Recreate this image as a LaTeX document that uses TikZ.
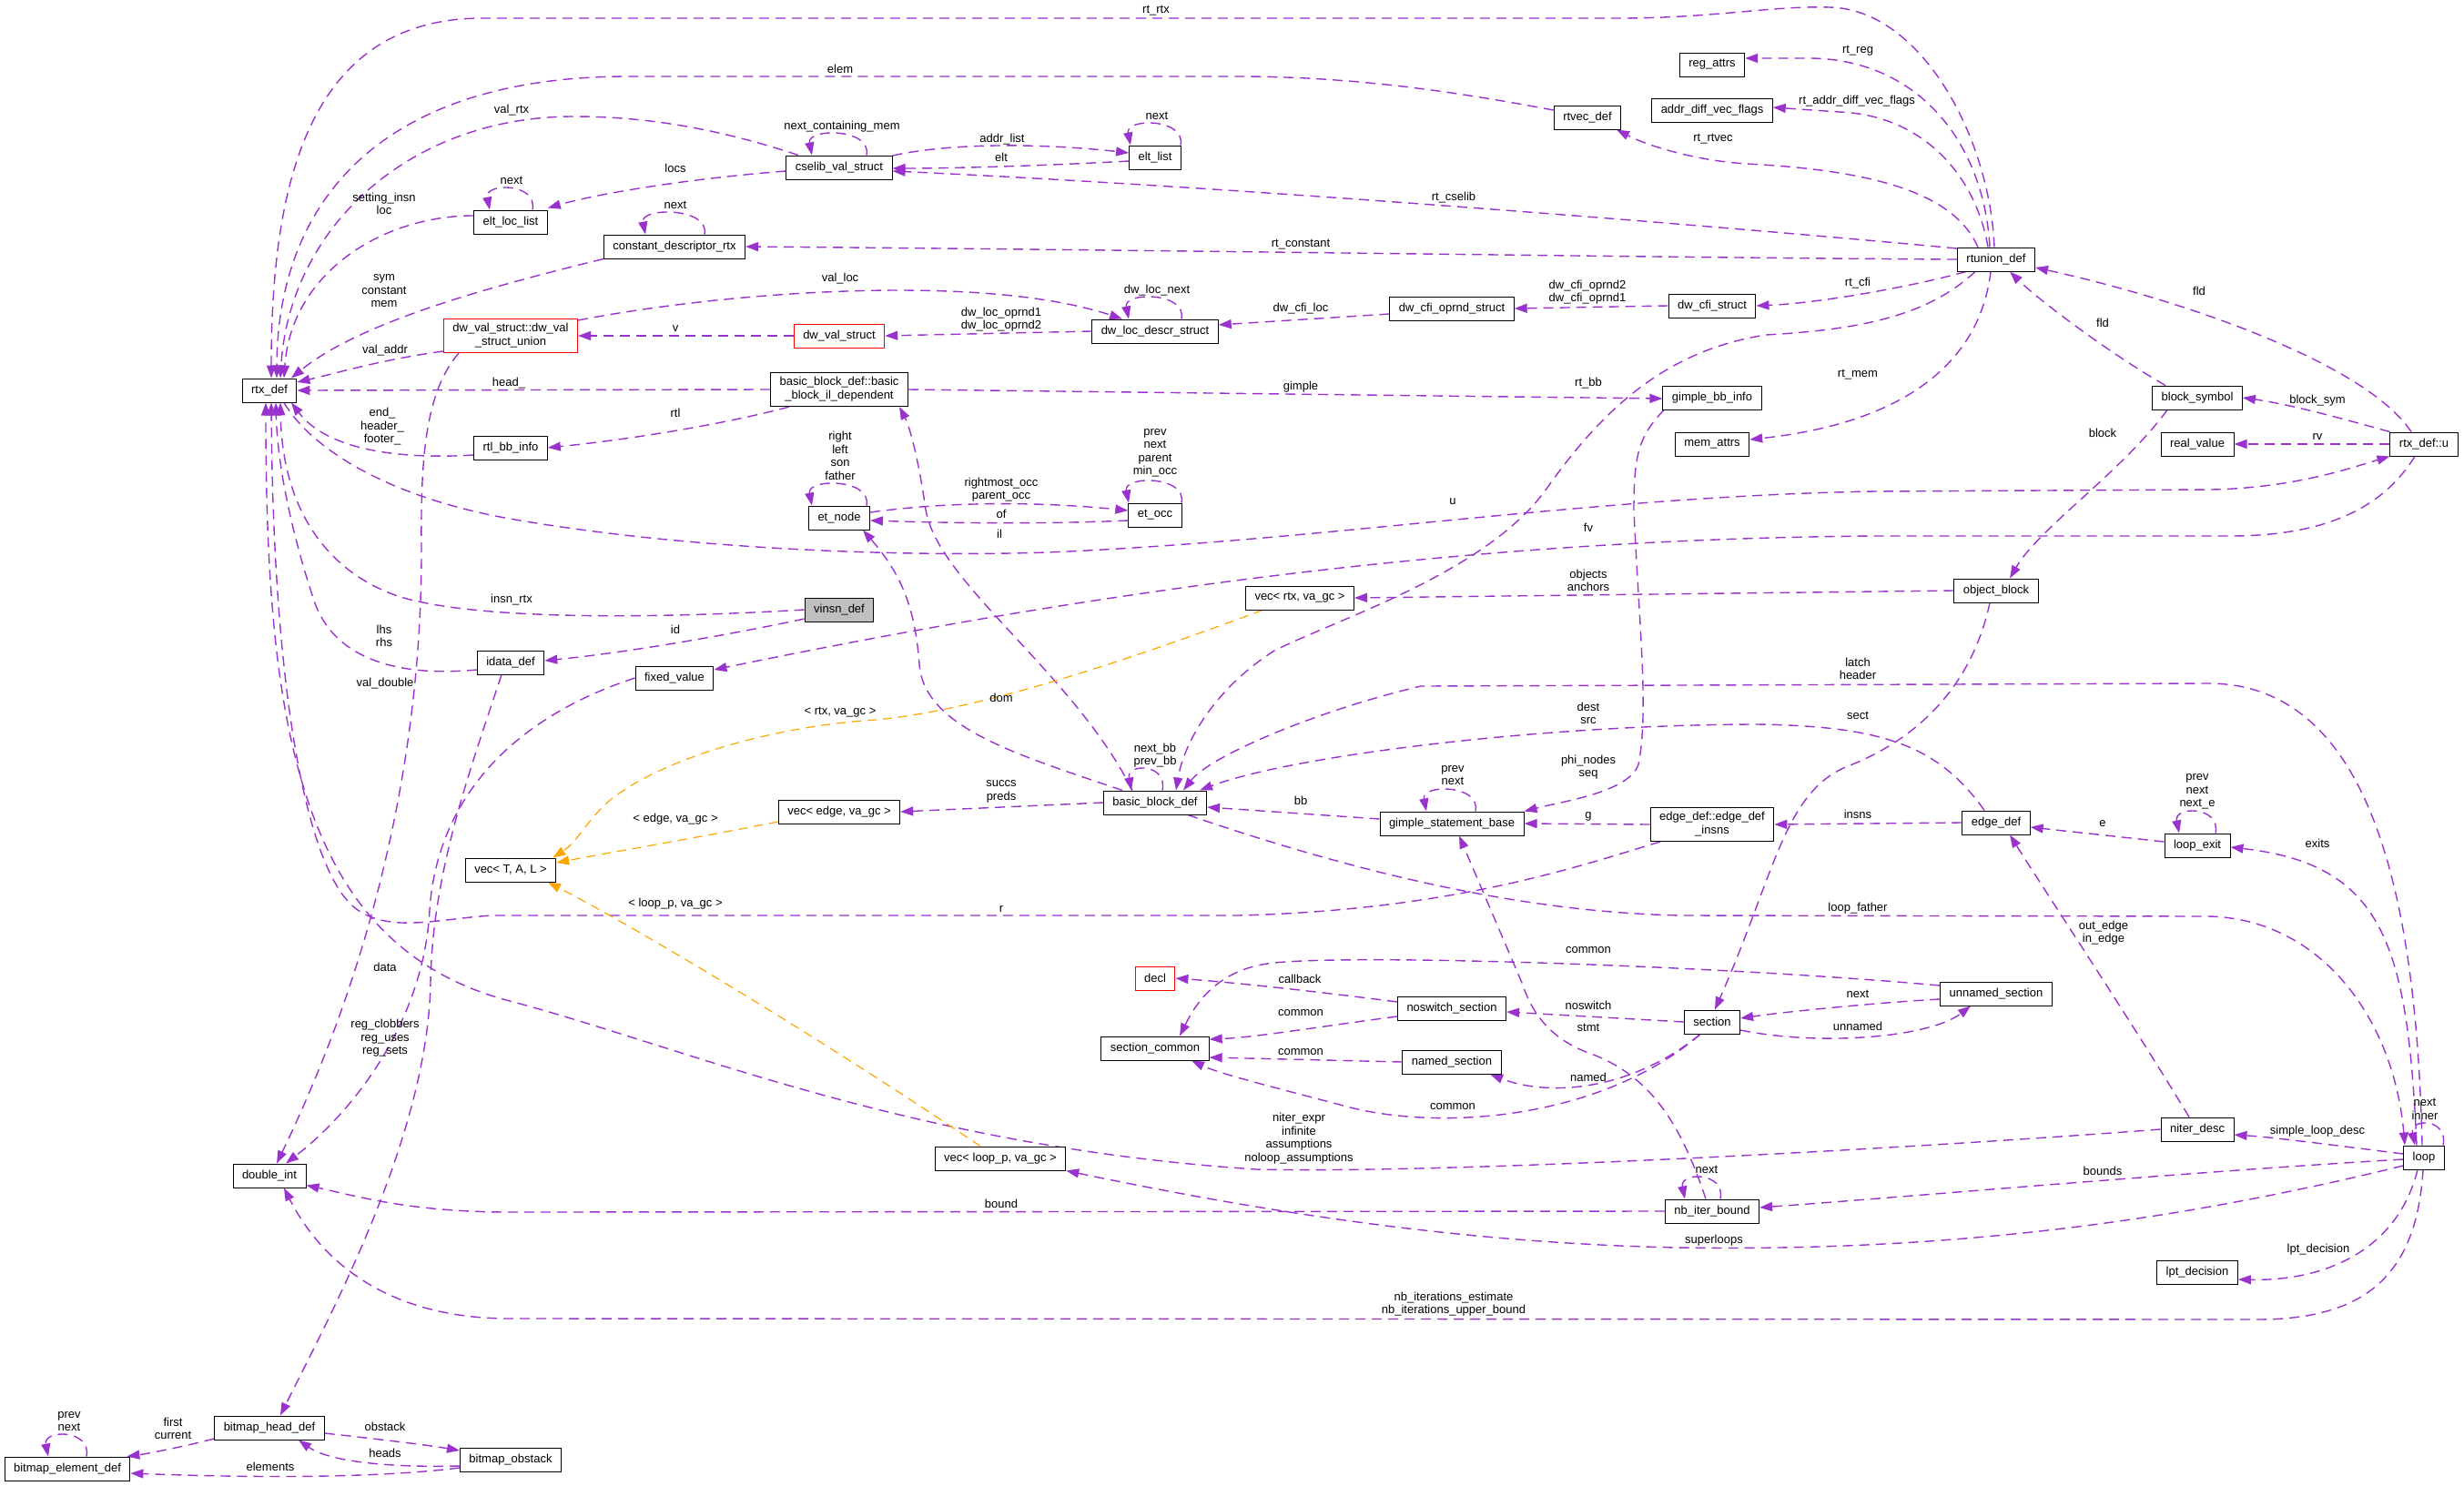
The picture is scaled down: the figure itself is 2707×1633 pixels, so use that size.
\documentclass[tikz,border=0pt]{standalone}
\usepackage{fontspec}
\setmainfont{Liberation Sans}
\usepackage{tikz}
\usetikzlibrary{arrows.meta, backgrounds}
\definecolor{edgepurple}{HTML}{9A32CD}
\definecolor{tmplorange}{HTML}{FFA500}
\definecolor{rootgray}{HTML}{BFBFBF}
\tikzstyle{cls} = [rectangle, draw=black, line width=1pt, fill=white, inner xsep=10pt, inner ysep=5pt, minimum height=26pt, align=center, font=\fontsize{13}{15}\selectfont]
\tikzstyle{badcls} = [cls, draw=red]
\tikzstyle{rootcls} = [cls, fill=rootgray]
\tikzstyle{lbl} = [inner sep=0pt, align=center, font=\fontsize{13}{14.5}\selectfont]
\tikzstyle{usage} = [draw=edgepurple, line width=1.4pt, dash pattern=on 11pt off 7pt, -{Triangle[length=14pt,width=10pt]}]
\tikzstyle{tmpl} = [draw=tmplorange, line width=1.2pt, dash pattern=on 10pt off 7pt, -{Triangle[length=14pt,width=10pt]}]
\newcommand{\selfloop}[3]{\draw [usage] ([xshift=#3]#1.north) .. controls +(6,-30) and +(-6,-30) .. ([xshift=#2]#1.north);}

\begin{document}
\begin{tikzpicture}[x=1pt, y=-1pt]
    \useasboundingbox (0,0) rectangle (2707,1633);

    \node (rtxdef) [cls] at (296,429) {rtx\_def};
    \node (eltloclist) [cls] at (561,244) {elt\_loc\_list};
    \node (constdesc) [cls] at (741,271) {constant\_descriptor\_rtx};
    \node (dwvalunion) [badcls] at (561,369) {dw\_val\_struct::dw\_val\\\_struct\_union};
    \node (rtlbbinfo) [cls] at (561,492) {rtl\_bb\_info};
    \node (cselib) [cls] at (922,184) {cselib\_val\_struct};
    \node (eltlist) [cls] at (1269,173) {elt\_list};
    \node (dwval) [badcls] at (922,369) {dw\_val\_struct};
    \node (dwlocdescr) [cls] at (1269,364) {dw\_loc\_descr\_struct};
    \node (bbil) [cls] at (922,428) {basic\_block\_def::basic\\\_block\_il\_dependent};
    \node (etnode) [cls] at (922,569) {et\_node};
    \node (etocc) [cls] at (1269,566) {et\_occ};
    \node (regattrs) [cls] at (1881,71) {reg\_attrs};
    \node (addrdiff) [cls] at (1881,121) {addr\_diff\_vec\_flags};
    \node (rtvecdef) [cls] at (1744,129) {rtvec\_def};
    \node (dwcfioprnd) [cls] at (1595,339) {dw\_cfi\_oprnd\_struct};
    \node (dwcfistruct) [cls] at (1881,336) {dw\_cfi\_struct};
    \node (gimplebbinfo) [cls] at (1881,437) {gimple\_bb\_info};
    \node (memattrs) [cls] at (1881,488) {mem\_attrs};
    \node (rtunion) [cls] at (2193,285) {rtunion\_def};
    \node (blocksymbol) [cls] at (2414,437) {block\_symbol};
    \node (realvalue) [cls] at (2414,488) {real\_value};
    \node (rtxu) [cls] at (2663,488) {rtx\_def::u};
    \node (idatadef) [cls] at (561,728) {idata\_def};
    \node (vectal) [cls] at (561,956) {vec< T, A, L >};
    \node (vinsndef) [rootcls] at (922,670) {vinsn\_def};
    \node (fixedvalue) [cls] at (741,745) {fixed\_value};
    \node (vecedge) [cls] at (922,892) {vec< edge, va\_gc >};
    \node (bbdef) [cls] at (1269,882) {basic\_block\_def};
    \node (decl) [badcls] at (1269,1075) {decl};
    \node (vecrtx) [cls] at (1428,657) {vec< rtx, va\_gc >};
    \node (gimplestmt) [cls] at (1595,905) {gimple\_statement\_base};
    \node (edgeinsns) [cls] at (1881,906) {edge\_def::edge\_def\\\_insns};
    \node (noswitch) [cls] at (1595,1108) {noswitch\_section};
    \node (objectblock) [cls] at (2193,649) {object\_block};
    \node (edgedef) [cls] at (2193,904) {edge\_def};
    \node (loopexit) [cls] at (2414,929) {loop\_exit};
    \node (unnamedsec) [cls] at (2193,1092) {unnamed\_section};
    \node (doubleint) [cls] at (296,1292) {double\_int};
    \node (bitmaphead) [cls] at (296,1569) {bitmap\_head\_def};
    \node (bitmapelem) [cls] at (74,1614) {bitmap\_element\_def};
    \node (bitmapobstack) [cls] at (561,1604) {bitmap\_obstack};
    \node (seccommon) [cls] at (1269,1152) {section\_common};
    \node (vecloop) [cls] at (1099,1273) {vec< loop\_p, va\_gc >};
    \node (section) [cls] at (1881,1123) {section};
    \node (namedsec) [cls] at (1595,1167) {named\_section};
    \node (nbiterbound) [cls] at (1881,1331) {nb\_iter\_bound};
    \node (niterdesc) [cls] at (2414,1241) {niter\_desc};
    \node (loop) [cls] at (2663,1272) {loop};
    \node (lptdecision) [cls] at (2414,1398) {lpt\_decision};

    \begin{scope}[on background layer]
    % into rtx_def
    \draw [usage] ([xshift=-2pt]rtunion.north) .. controls (2186,150) and (2110,10) .. (2010,8) .. controls (1950,6) and (1880,20) .. (1780,20) -- (530,20) .. controls (340,20) and (298,200) .. ([xshift=2pt]rtxdef.north);
    \draw [usage] ([yshift=8pt]rtvecdef.west) .. controls (1620,105) and (1500,84) .. (1360,84) -- (690,84) .. controls (420,84) and (305,220) .. ([xshift=8pt]rtxdef.north);
    \draw [usage] ([xshift=-45pt]cselib.north) .. controls (800,145) and (720,128) .. (630,128) .. controls (450,128) and (318,250) .. ([xshift=12pt]rtxdef.north);
    \draw [usage] ([yshift=7pt]eltloclist.west) .. controls (420,237) and (320,300) .. ([xshift=16pt]rtxdef.north);
    \draw [usage] (constdesc.south west) .. controls (560,310) and (400,350) .. ([xshift=24pt]rtxdef.north);
    \draw [usage] ([yshift=-17pt]dwvalunion.west) .. controls (420,395) and (370,410) .. ([yshift=9pt]rtxdef.east);
    \draw [usage] (bbil.west) -- (rtxdef.east);
    \draw [usage] ([yshift=-8pt]rtlbbinfo.west) .. controls (440,505) and (360,495) .. ([xshift=24pt]rtxdef.south);
    \draw [usage] (vinsndef.west) .. controls (700,681) and (520,680) .. (440,656) .. controls (360,630) and (310,560) .. ([xshift=12pt]rtxdef.south);
    \draw [usage] ([yshift=-8pt]idatadef.west) .. controls (430,745) and (365,720) .. (345,660) .. controls (325,600) and (305,520) .. ([xshift=7pt]rtxdef.south);
    \draw [usage] (niterdesc.west) .. controls (2100,1262) and (1600,1290) .. (1380,1285) .. controls (1000,1260) and (750,1150) .. (560,1100) .. controls (330,1040) and (292,800) .. ([xshift=-4pt]rtxdef.south);
    \draw [usage] ([xshift=-57pt]edgeinsns.south) .. controls (1740,950) and (1600,1000) .. (1360,1006) -- (540,1006) .. controls (480,1010) and (430,1025) .. (393,1000) .. controls (335,960) and (300,750) .. ([xshift=2pt]rtxdef.south);
    \draw [usage] ([xshift=16pt]rtxdef.south) .. controls (340,490) and (420,545) .. (560,570) .. controls (760,605) and (1000,612) .. (1150,607) .. controls (1450,595) and (1750,545) .. (2060,540) -- (2430,538) .. controls (2520,536) and (2580,515) .. (rtxu.south west);
    % cselib and friends
    \draw [usage] ([yshift=-4pt]cselib.west) .. controls (760,196) and (660,212) .. ([yshift=2pt]eltloclist.north east);
    \draw [usage] ([yshift=13pt]cselib.east) .. controls (1050,156) and (1150,158) .. ([yshift=5pt]eltlist.west);
    \draw [usage] ([yshift=-4pt]eltlist.west) .. controls (1150,182) and (1050,185) .. ([yshift=-1pt]cselib.east);
    \draw [usage] ([yshift=12pt]rtunion.west) .. controls (1850,245) and (1350,205) .. ([yshift=-4pt]cselib.east);
    \draw [usage] (rtunion.west) .. controls (1900,284) and (1300,275) .. (constdesc.east);
    \draw [usage] ([yshift=17pt]dwvalunion.east) .. controls (800,320) and (1080,300) .. ([xshift=-36pt]dwlocdescr.north);
    \draw [usage] (dwval.west) -- (dwvalunion.east);
    \draw [usage] (dwlocdescr.west) -- (dwval.east);
    \draw [usage] ([yshift=-6pt]dwcfioprnd.west) -- ([yshift=7pt]dwlocdescr.east);
    \draw [usage] (dwcfistruct.west) -- (dwcfioprnd.east);
    \draw [usage] ([xshift=-33pt]rtunion.south) .. controls (2100,315) and (2000,333) .. (dwcfistruct.east);
    \draw [usage] ([xshift=-20pt]rtunion.north) .. controls (2150,220) and (2080,188) .. (1918,180) .. controls (1860,176) and (1810,160) .. ([xshift=32pt]rtvecdef.south);
    \draw [usage] ([xshift=-7pt]rtunion.north) .. controls (2180,160) and (2110,66) .. (1990,64) -- ([yshift=7pt]regattrs.east);
    \draw [usage] ([xshift=-9pt]rtunion.north) .. controls (2170,190) and (2110,126) .. (2020,123) -- ([yshift=3pt]addrdiff.east);
    \draw [usage] ([xshift=-6pt]rtunion.south) .. controls (2175,400) and (2090,465) .. ([yshift=5pt]memattrs.east);
    \draw [usage] ([xshift=-23pt]rtunion.south) .. controls (2120,345) and (2050,362) .. (1940,368) .. controls (1830,385) and (1760,450) .. (1697,540) .. controls (1630,630) and (1470,680) .. (1400,715) .. controls (1330,760) and (1300,820) .. ([xshift=23pt]bbdef.north);
    \draw [usage] (bbil.east) -- ([yshift=-1pt]gimplebbinfo.west);
    \draw [usage] ([xshift=-53pt]gimplebbinfo.south) .. controls (1800,480) and (1795,500) .. (1795,560) .. controls (1800,680) and (1812,780) .. (1800,840) .. controls (1790,870) and (1720,880) .. (gimplestmt.north east);
    \draw [usage] ([xshift=-55pt]bbil.south) .. controls (800,465) and (700,482) .. (rtlbbinfo.east);
    \draw [usage] ([yshift=6pt]etnode.east) .. controls (1050,550) and (1150,552) .. ([yshift=5pt]etocc.west);
    \draw [usage] ([yshift=-6pt]etocc.west) .. controls (1150,576) and (1050,575) .. ([yshift=-3pt]etnode.east);
    \draw [usage] ([xshift=-36pt]bbdef.north) .. controls (1120,830) and (1015,800) .. (1010,730) .. controls (1005,660) and (985,625) .. ([xshift=26pt]etnode.south);
    \draw [usage] ([xshift=-25pt]bbdef.north) .. controls (1180,740) and (1030,640) .. (1017,560) .. controls (1010,510) and (1000,470) .. ([xshift=66pt]bbil.south);
    % right part
    \draw [usage] ([xshift=-14pt]rtxu.north) .. controls (2600,400) and (2400,330) .. ([yshift=-9pt]rtunion.east);
    \draw [usage] ([xshift=-35pt]blocksymbol.north) .. controls (2320,390) and (2240,330) .. ([xshift=15pt]rtunion.south);
    \draw [usage] (rtxu.north west) .. controls (2580,462) and (2520,445) .. (blocksymbol.east);
    \draw [usage] (rtxu.west) -- (realvalue.east);
    \draw [usage] ([xshift=-33pt]blocksymbol.south) .. controls (2330,520) and (2240,580) .. ([xshift=15pt]objectblock.north);
    \draw [usage] ([xshift=-10pt]rtxu.south) .. controls (2620,555) and (2560,589) .. (2450,589) -- (2060,589) .. controls (1650,592) and (1250,640) .. ([yshift=9pt]fixedvalue.east);
    \draw [usage] (objectblock.west) -- (vecrtx.east);
    \draw [usage] ([xshift=-7pt]objectblock.south) .. controls (2165,760) and (2100,815) .. (2030,842) .. controls (1960,870) and (1950,960) .. ([xshift=3pt]section.north);
    \draw [usage] ([xshift=-13pt]edgedef.north) .. controls (2130,820) and (2070,798) .. (1931,796) .. controls (1700,796) and (1420,830) .. ([xshift=49pt]bbdef.north);
    \draw [usage] ([xshift=-2pt]loop.north) .. controls (2655,1000) and (2610,752) .. (2427,751) -- (1561,754) .. controls (1450,780) and (1330,830) .. ([xshift=31pt]bbdef.north);
    \draw [usage] ([xshift=36pt]bbdef.south) .. controls (1450,945) and (1650,1003) .. (1850,1006) -- (2427,1007) .. controls (2550,1010) and (2630,1120) .. ([xshift=-21pt]loop.north);
    \draw [usage] ([yshift=5pt]gimplestmt.west) -- ([yshift=-5pt]bbdef.east);
    \draw [usage] (edgeinsns.west) -- (gimplestmt.east);
    \draw [usage] (edgedef.west) -- (edgeinsns.east);
    \draw [usage] (bbdef.west) -- (vecedge.east);
    \draw [usage] ([yshift=4pt]loopexit.west) -- ([yshift=-5pt]edgedef.east);
    \draw [usage] ([xshift=-8pt]loop.north) .. controls (2645,1040) and (2620,950) .. ([yshift=-2pt]loopexit.east);
    \draw [usage] ([xshift=-9pt]niterdesc.north) .. controls (2340,1120) and (2260,1000) .. ([xshift=15pt]edgedef.south);
    % sections
    \draw [usage] ([yshift=-9pt]section.east) .. controls (2000,1150) and (2120,1140) .. ([xshift=-28pt]unnamedsec.south);
    \draw [usage] ([yshift=-6pt]unnamedsec.west) .. controls (2060,1102) and (1960,1112) .. ([yshift=4pt]section.east);
    \draw [usage] ([yshift=9pt]unnamedsec.west) .. controls (1900,1062) and (1500,1048) .. (1400,1058) .. controls (1340,1064) and (1315,1100) .. ([xshift=27pt]seccommon.north);
    \draw [usage] ([yshift=7pt]noswitch.west) .. controls (1450,1090) and (1360,1080) .. (decl.east);
    \draw [usage] ([yshift=-9pt]noswitch.west) .. controls (1450,1128) and (1380,1140) .. ([yshift=10pt]seccommon.east);
    \draw [usage] (namedsec.west) -- ([yshift=-10pt]seccommon.east);
    \draw [usage] ([xshift=-13pt]section.south) .. controls (1760,1230) and (1580,1245) .. (1472,1214) .. controls (1400,1195) and (1340,1180) .. ([xshift=40pt]seccommon.south);
    \draw [usage] (section.west) -- ([yshift=-4pt]noswitch.east);
    \draw [usage] ([xshift=-13pt]section.south) .. controls (1790,1200) and (1700,1205) .. ([xshift=42pt]namedsec.south);
    \draw [usage] ([xshift=-7pt]nbiterbound.north) .. controls (1845,1230) and (1810,1180) .. (1745,1157) .. controls (1700,1140) and (1682,1110) .. (1672,1080) -- ([xshift=8pt]gimplestmt.south);
    % loop
    \draw [usage] (nbiterbound.west) -- (560,1332) .. controls (450,1332) and (390,1314) .. ([yshift=3pt]doubleint.south east);
    \draw [usage] ([yshift=-2pt]loop.west) .. controls (2400,1288) and (2100,1315) .. ([yshift=4pt]nbiterbound.east);
    \draw [usage] ([yshift=4pt]loop.west) .. controls (2560,1258) and (2500,1250) .. ([yshift=-6pt]niterdesc.east);
    \draw [usage] ([yshift=-9pt]loop.west) .. controls (2400,1340) and (2150,1376) .. (1843,1371) .. controls (1600,1366) and (1380,1330) .. (vecloop.south east);
    \draw [usage] ([xshift=-7pt]loop.south) .. controls (2635,1370) and (2560,1408) .. ([yshift=-8pt]lptdecision.east);
    \draw [usage] ([xshift=-1pt]loop.south) .. controls (2655,1400) and (2600,1450) .. (2480,1450) -- (560,1449) .. controls (430,1449) and (355,1390) .. ([xshift=16pt]doubleint.south);
    % double_int, bitmaps
    \draw [usage] ([xshift=-57pt]dwvalunion.south) .. controls (468,430) and (462,500) .. (463,600) .. controls (464,850) and (400,1080) .. ([xshift=8pt]doubleint.north);
    \draw [usage] (fixedvalue.west) .. controls (560,790) and (480,880) .. (472,1000) .. controls (466,1120) and (390,1220) .. ([xshift=18pt]doubleint.north);
    \draw [usage] ([xshift=-10pt]idatadef.south) .. controls (515,850) and (475,960) .. (473,1080) .. controls (470,1250) and (360,1450) .. ([xshift=12pt]bitmaphead.north);
    \draw [usage] ([yshift=-10pt]vinsndef.west) .. controls (790,700) and (680,718) .. ([yshift=2pt]idatadef.east);
    \draw [usage] ([yshift=-12pt]bitmaphead.west) .. controls (200,1590) and (165,1597) .. ([xshift=-4pt]bitmapelem.north east);
    \draw [usage] ([yshift=-6pt]bitmaphead.east) .. controls (420,1582) and (470,1588) .. ([yshift=10pt]bitmapobstack.west);
    \draw [usage] ([yshift=-7pt]bitmapobstack.west) .. controls (420,1613) and (360,1605) .. ([xshift=32pt]bitmaphead.south);
    \draw [usage] ([yshift=-9pt]bitmapobstack.west) .. controls (400,1626) and (250,1623) .. ([yshift=-5pt]bitmapelem.east);
    % templates
    \draw [tmpl] ([xshift=-41pt]vecrtx.south) .. controls (1200,740) and (1050,786) .. (948,792) .. controls (850,800) and (740,830) .. (680,872) .. controls (650,892) and (635,925) .. ([xshift=-4pt]vectal.north east);
    \draw [tmpl] ([yshift=-11pt]vecedge.west) .. controls (780,918) and (680,935) .. ([yshift=8pt]vectal.east);
    \draw [tmpl] ([xshift=-22pt]vecloop.north) .. controls (900,1140) and (700,1020) .. ([xshift=41pt]vectal.south);
    % self references
    \selfloop{eltloclist}{-23pt}{24pt}
    \selfloop{cselib}{-30pt}{30pt}
    \selfloop{eltlist}{-27pt}{28pt}
    \selfloop{constdesc}{-32pt}{33pt}
    \selfloop{dwlocdescr}{-29pt}{29pt}
    \selfloop{etnode}{-30pt}{30pt}
    \selfloop{etocc}{-29pt}{29pt}
    \selfloop{bbdef}{-26pt}{8pt}
    \selfloop{gimplestmt}{-28pt}{26pt}
    \selfloop{loopexit}{-20pt}{20pt}
    \selfloop{nbiterbound}{-30pt}{9pt}
    \selfloop{loop}{-10pt}{21pt}
    \selfloop{bitmapelem}{-21pt}{21pt}
    \end{scope}

    \node (l-rtrtx) [lbl] at (1270,12) {rt\_rtx};
    \node (l-elem) [lbl] at (923,76) {elem};
    \node (l-valrtx) [lbl] at (562,121) {val\_rtx};
    \node (l-next1) [lbl] at (562,198) {next};
    \node (l-setting) [lbl] at (422,224) {setting\_insn\\loc};
    \node (l-sym) [lbl] at (422,320) {sym\\constant\\mem};
    \node (l-valaddr) [lbl] at (423,385) {val\_addr};
    \node (l-head) [lbl] at (559,421) {head\_};
    \node (l-end) [lbl] at (420,469) {end\_\\header\_\\footer\_};
    \node (l-rtl) [lbl] at (742,454) {rtl};
    \node (l-locs) [lbl] at (742,185) {locs};
    \node (l-ncm) [lbl] at (925,139) {next\_containing\_mem};
    \node (l-addrlist) [lbl] at (1101,153) {addr\_list};
    \node (l-elt) [lbl] at (1100,173) {elt};
    \node (l-next2) [lbl] at (1271,127) {next};
    \node (l-next3) [lbl] at (742,225) {next};
    \node (l-valloc) [lbl] at (923,306) {val\_loc};
    \node (l-v) [lbl] at (742,361) {v};
    \node (l-oprnd) [lbl] at (1100,351) {dw\_loc\_oprnd1\\dw\_loc\_oprnd2};
    \node (l-locnext) [lbl] at (1271,319) {dw\_loc\_next};
    \node (l-etn) [lbl] at (923,501) {right\\left\\son\\father};
    \node (l-eto) [lbl] at (1269,498) {prev\\next\\parent\\min\_occ};
    \node (l-occ) [lbl] at (1100,538) {rightmost\_occ\\parent\_occ};
    \node (l-of) [lbl] at (1100,565) {of};
    \node (l-il) [lbl] at (1098,587) {il};
    \node (l-u) [lbl] at (1596,551) {u};
    \node (l-fv) [lbl] at (1745,580) {fv};
    \node (l-rtcselib) [lbl] at (1597,217) {rt\_cselib};
    \node (l-rtconst) [lbl] at (1429,269) {rt\_constant};
    \node (l-rtrtvec) [lbl] at (1882,153) {rt\_rtvec};
    \node (l-rtreg) [lbl] at (2041,56) {rt\_reg};
    \node (l-rtaddr) [lbl] at (2040,111) {rt\_addr\_diff\_vec\_flags};
    \node (l-cfiloc) [lbl] at (1429,339) {dw\_cfi\_loc};
    \node (l-cfioprnd) [lbl] at (1744,321) {dw\_cfi\_oprnd2\\dw\_cfi\_oprnd1};
    \node (l-rtcfi) [lbl] at (2041,311) {rt\_cfi};
    \node (l-rtbb) [lbl] at (1745,421) {rt\_bb};
    \node (l-gimple) [lbl] at (1429,425) {gimple};
    \node (l-rtmem) [lbl] at (2041,412) {rt\_mem};
    \node (l-fld1) [lbl] at (2416,320) {fld};
    \node (l-fld2) [lbl] at (2310,355) {fld};
    \node (l-blocksym) [lbl] at (2546,440) {block\_sym};
    \node (l-rv) [lbl] at (2546,480) {rv};
    \node (l-block) [lbl] at (2310,476) {block};
    \node (l-objects) [lbl] at (1745,638) {objects\\anchors};
    \node (l-latch) [lbl] at (2041,735) {latch\\header};
    \node (l-dest) [lbl] at (1745,784) {dest\\src};
    \node (l-sect) [lbl] at (2041,786) {sect};
    \node (l-phi) [lbl] at (1745,843) {phi\_nodes\\seq};
    \node (l-gsenext) [lbl] at (1596,852) {prev\\next};
    \node (l-nextbb) [lbl] at (1269,830) {next\_bb\\prev\_bb};
    \node (l-succs) [lbl] at (1100,870) {succs\\preds};
    \node (l-bb) [lbl] at (1429,880) {bb};
    \node (l-g) [lbl] at (1745,897) {g};
    \node (l-insns) [lbl] at (2041,895) {insns};
    \node (l-e) [lbl] at (2310,905) {e};
    \node (l-exitnext) [lbl] at (2414,870) {prev\\next\\next\_e};
    \node (l-exits) [lbl] at (2546,927) {exits};
    \node (l-loopfather) [lbl] at (2041,998) {loop\_father};
    \node (l-outedge) [lbl] at (2311,1025) {out\_edge\\in\_edge};
    \node (l-vrtx) [lbl] at (923,783) {< rtx, va\_gc >};
    \node (l-vedge) [lbl] at (742,900) {< edge, va\_gc >};
    \node (l-vloop) [lbl] at (742,993) {< loop\_p, va\_gc >};
    \node (l-r) [lbl] at (1100,999) {r};
    \node (l-dom) [lbl] at (1100,767) {dom};
    \node (l-insnrtx) [lbl] at (562,659) {insn\_rtx};
    \node (l-id) [lbl] at (742,692) {id};
    \node (l-lhs) [lbl] at (422,699) {lhs\\rhs};
    \node (l-valdouble) [lbl] at (423,751) {val\_double};
    \node (l-data) [lbl] at (423,1063) {data};
    \node (l-regs) [lbl] at (423,1141) {reg\_clobbers\\reg\_uses\\reg\_sets};
    \node (l-common1) [lbl] at (1745,1044) {common};
    \node (l-callback) [lbl] at (1428,1076) {callback};
    \node (l-common2) [lbl] at (1429,1113) {common};
    \node (l-common3) [lbl] at (1429,1156) {common};
    \node (l-noswitch) [lbl] at (1745,1105) {noswitch};
    \node (l-stmt) [lbl] at (1745,1129) {stmt};
    \node (l-next4) [lbl] at (2041,1092) {next};
    \node (l-unnamed) [lbl] at (2041,1128) {unnamed};
    \node (l-named) [lbl] at (1745,1184) {named};
    \node (l-common4) [lbl] at (1596,1216) {common};
    \node (l-niter) [lbl] at (1427,1251) {niter\_expr\\infinite\\assumptions\\noloop\_assumptions};
    \node (l-next5) [lbl] at (1875,1285) {next};
    \node (l-sld) [lbl] at (2546,1243) {simple\_loop\_desc};
    \node (l-bounds) [lbl] at (2310,1287) {bounds};
    \node (l-bound) [lbl] at (1100,1323) {bound};
    \node (l-superloops) [lbl] at (1883,1363) {superloops};
    \node (l-lpt) [lbl] at (2547,1373) {lpt\_decision};
    \node (l-nbiter) [lbl] at (1597,1433) {nb\_iterations\_estimate\\nb\_iterations\_upper\_bound};
    \node (l-inner) [lbl] at (2664,1219) {next\\inner};
    \node (l-bednext) [lbl] at (76,1562) {prev\\next};
    \node (l-first) [lbl] at (190,1570) {first\\current};
    \node (l-obstack) [lbl] at (423,1568) {obstack};
    \node (l-heads) [lbl] at (423,1597) {heads};
    \node (l-elements) [lbl] at (297,1612) {elements};
\end{tikzpicture}
\end{document}
